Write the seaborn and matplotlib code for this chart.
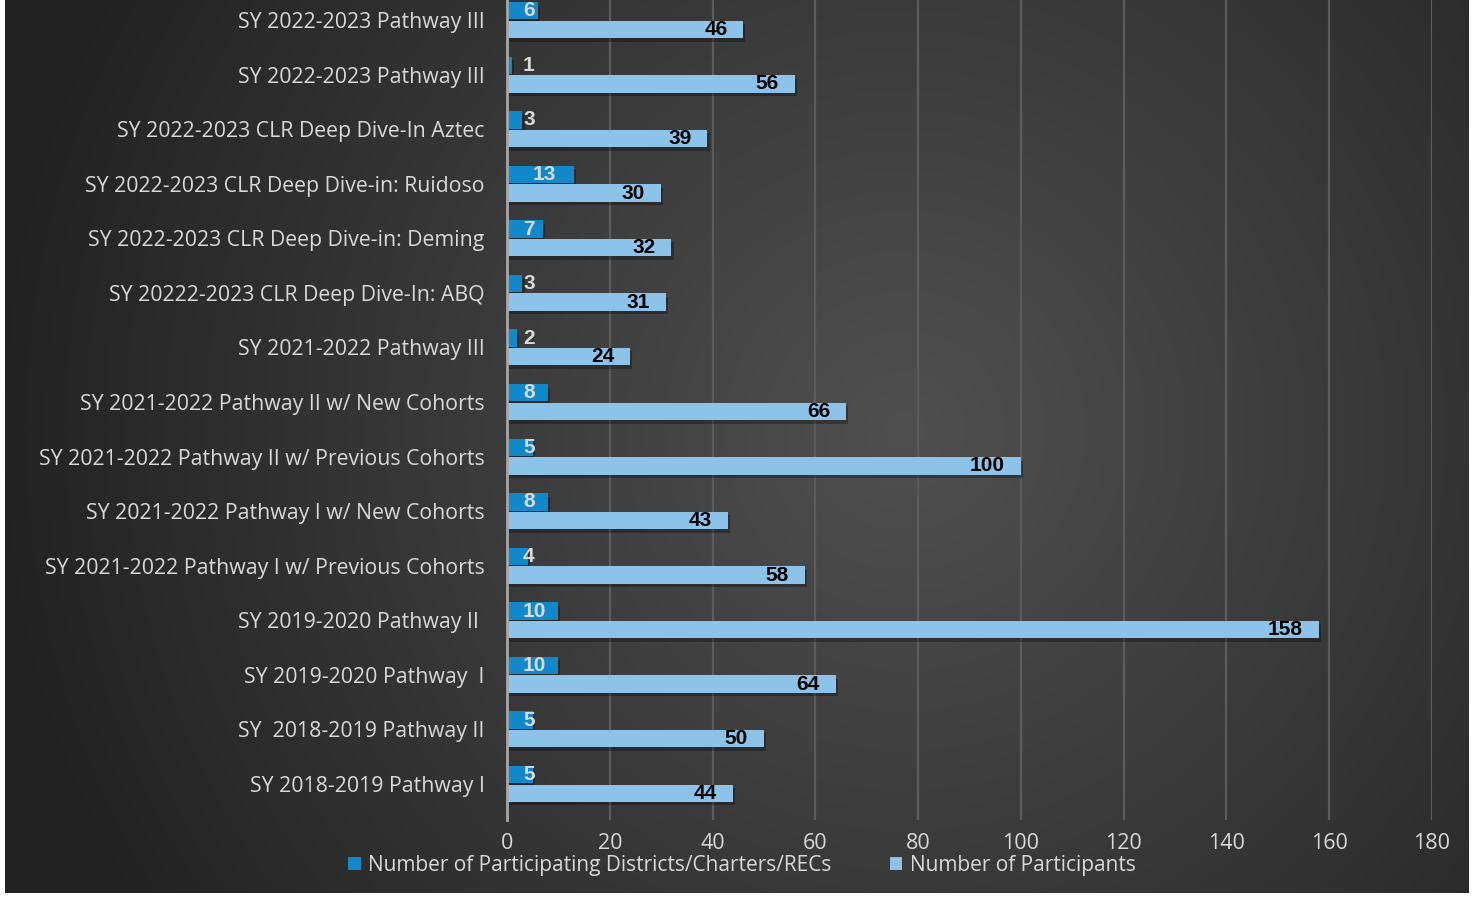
import numpy as np
import pandas as pd
import matplotlib
matplotlib.use("Agg")
import matplotlib.pyplot as plt
import matplotlib.patheffects as pe
from matplotlib.patches import Patch
import seaborn as sns

# data, top row first
categories = [
    "SY 2022-2023 Pathway III",
    "SY 2022-2023 Pathway III",
    "SY 2022-2023 CLR Deep Dive-In Aztec",
    "SY 2022-2023 CLR Deep Dive-in: Ruidoso",
    "SY 2022-2023 CLR Deep Dive-in: Deming",
    "SY 20222-2023 CLR Deep Dive-In: ABQ",
    "SY 2021-2022 Pathway III",
    "SY 2021-2022 Pathway II w/ New Cohorts",
    "SY 2021-2022 Pathway II w/ Previous Cohorts",
    "SY 2021-2022 Pathway I w/ New Cohorts",
    "SY 2021-2022 Pathway I w/ Previous Cohorts",
    "SY 2019-2020 Pathway II ",
    "SY 2019-2020 Pathway  I",
    "SY  2018-2019 Pathway II",
    "SY 2018-2019 Pathway I",
]
districts = [6, 1, 3, 13, 7, 3, 2, 8, 5, 8, 4, 10, 10, 5, 5]
participants = [46, 56, 39, 30, 32, 31, 24, 66, 100, 43, 58, 158, 64, 50, 44]
series_names = ["Number of Participating Districts/Charters/RECs", "Number of Participants"]
x_ticks = [0, 20, 40, 60, 80, 100, 120, 140, 160, 180]

DARK_BLUE = "#1088c9"
LIGHT_BLUE = "#8dc3e9"
TEXT = "#d9d9d9"

sns.set_style("dark")
plt.rcParams["font.family"] = ["Open Sans", "DejaVu Sans"]

n = len(categories)
row_ids = [str(i) for i in range(n)]
df = pd.DataFrame({
    "row": row_ids * 2,
    "value": districts + participants,
    "series": [series_names[0]] * n + [series_names[1]] * n,
})

W, H = 1475, 898
fig = plt.figure(figsize=(W / 100, H / 100), dpi=100)
fig.patch.set_facecolor("white")

# dark radial background
bg = fig.add_axes([5 / W, 5 / H, 1464 / W, 893 / H])
bh, bw = 893, 1464
yy, xx = np.mgrid[0:bh, 0:bw]
r = np.hypot(xx - 900, yy - 430)
t = np.clip(r / 920, 0, 1)
inner = np.array([0x50, 0x50, 0x50]) / 255
outer = np.array([0x22, 0x22, 0x22]) / 255
img = inner + (outer - inner) * t[..., None]
bg.imshow(img, aspect="auto")
bg.axis("off")

# main axes: rows centred from y=20px, step ~54.6px
ax = fig.add_axes([507 / W, (H - 819.5) / H, 925 / W, 833.3 / H])
ax.set_facecolor("none")

sns.barplot(data=df, x="value", y="row", hue="series", order=row_ids,
            hue_order=series_names, palette=[DARK_BLUE, LIGHT_BLUE],
            width=0.68, gap=0.06, orient="h", saturation=1,
            linewidth=0, legend=False, ax=ax)

for patch in ax.patches:
    patch.set_path_effects([
        pe.SimplePatchShadow(offset=(1.5, -2.5), shadow_rgbFace="black", alpha=0.3),
        pe.Normal(),
    ])

ax.set_xlim(0, 180)
ax.set_ylim(14.65, -0.62)
ax.set_xticks(x_ticks)
ax.set_yticks(range(n))
ax.set_yticklabels(categories)
ax.set_xlabel("")
ax.set_ylabel("")
ax.tick_params(axis="y", length=0, pad=16, labelsize=15.3, labelcolor=TEXT)
ax.tick_params(axis="x", length=0, pad=10, labelsize=15.5, labelcolor=TEXT)

ax.grid(axis="x", color="#5c5c5c", linewidth=1.6)
ax.grid(axis="y", visible=False)
ax.set_axisbelow(True)
for s in ["top", "right", "bottom"]:
    ax.spines[s].set_visible(False)
ax.spines["left"].set_color("#a6a6a6")
ax.spines["left"].set_linewidth(2)

# value labels
ppu = 925 / 180
for bar, v in zip(ax.containers[0], districts):
    yc = bar.get_y() + bar.get_height() / 2
    right = v * ppu - 18
    if right - len(str(v)) * 12 < 16:
        ax.text(16 / ppu, yc, str(v), ha="left", va="center", fontsize=15,
                fontweight="bold", color=TEXT, family="Liberation Sans")
    else:
        ax.text(right / ppu, yc, str(v), ha="right", va="center", fontsize=15,
                fontweight="bold", color=TEXT, family="Liberation Sans")

for bar, v in zip(ax.containers[1], participants):
    yc = bar.get_y() + bar.get_height() / 2
    ax.text(v - 16 / ppu, yc, str(v), ha="right", va="center", fontsize=15,
            fontweight="bold", color="black", family="Liberation Sans")

handles = [Patch(facecolor=DARK_BLUE, linewidth=0), Patch(facecolor=LIGHT_BLUE, linewidth=0)]
fig.legend(handles, series_names, loc="center",
           bbox_to_anchor=(742 / W, (H - 865) / H), ncol=2, frameon=False,
           fontsize=15, labelcolor=TEXT, handlelength=0.6, handleheight=0.6,
           handletextpad=0.35, columnspacing=2.8)

fig.savefig("out.png", dpi=100, facecolor=fig.get_facecolor())
